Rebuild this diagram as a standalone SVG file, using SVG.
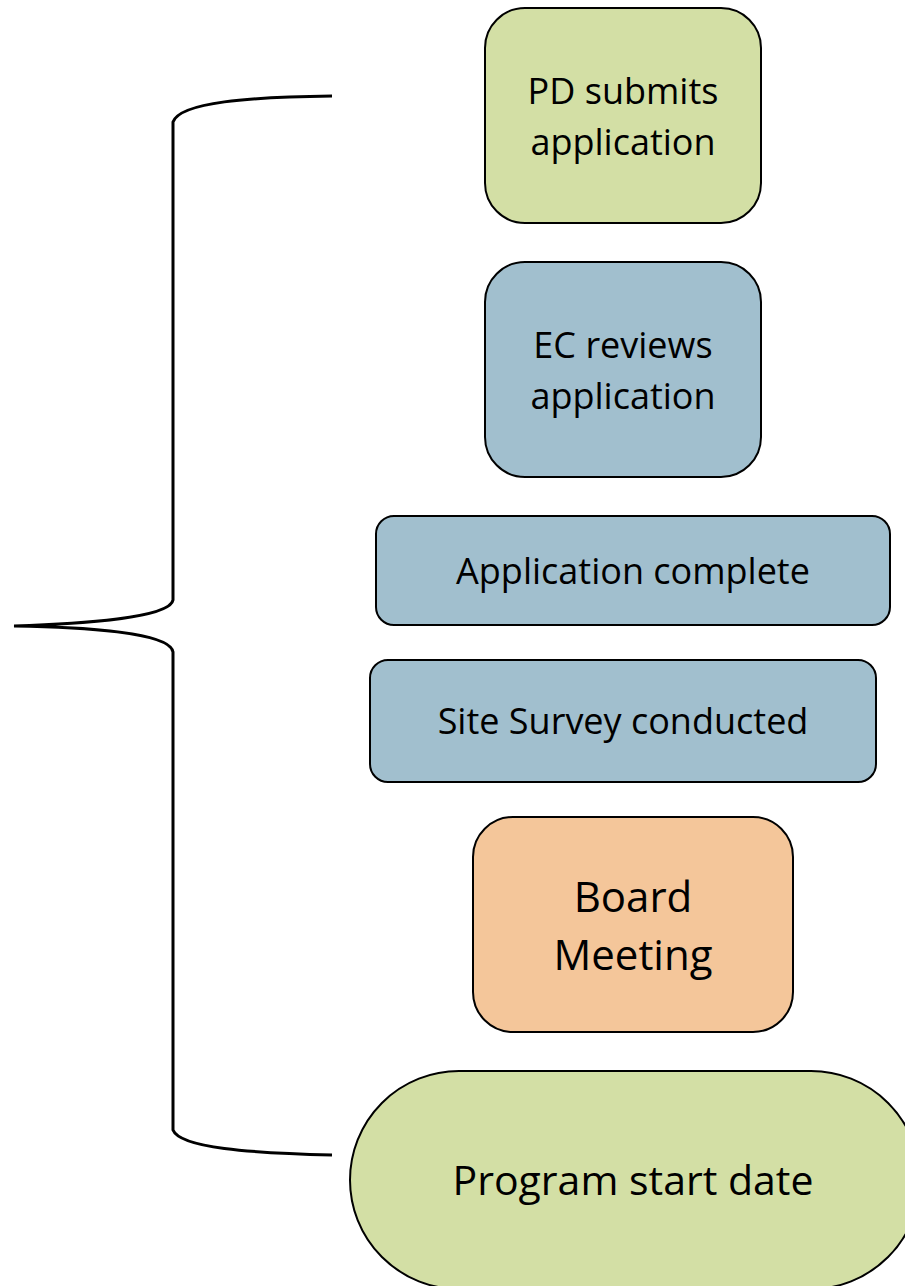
<svg xmlns="http://www.w3.org/2000/svg" width="905" height="1286" viewBox="0 0 905 1286">
<style>
.box{stroke:#000;stroke-width:2}
.g{fill:#d3dfa5}
.b{fill:#a1bfce}
.o{fill:#f4c69a}
text{font-family:"Open Sans","Noto Sans",sans-serif;font-size:36px;fill:#000;text-anchor:middle}
.big{font-size:42px}
</style>
<g id="connectors">
<path d="M332,96 C250,97 180,102 173,122 L173,600 C170,618 80,624 14,626 C80,627 170,632 173,652 L173,1130 C180,1148 250,1153 332,1155" fill="none" stroke="#000" stroke-width="3"/>
</g>
<g id="pd">
<rect class="box g" x="485" y="8" width="276" height="215" rx="40"/>
<text x="623" y="104">PD submits</text>
<text x="623" y="155">application</text>
</g>
<g id="ec">
<rect class="box b" x="485" y="262" width="276" height="215" rx="40"/>
<text x="623" y="358">EC reviews</text>
<text x="623" y="409">application</text>
</g>
<g id="complete">
<rect class="box b" x="376" y="516" width="514" height="109" rx="18"/>
<text x="633" y="584">Application complete</text>
</g>
<g id="survey">
<rect class="box b" x="370" y="660" width="506" height="122" rx="18"/>
<text x="623" y="734">Site Survey conducted</text>
</g>
<g id="board">
<rect class="box o" x="473" y="817" width="320" height="215" rx="40"/>
<text class="big" x="633" y="912">Board</text>
<text class="big" x="633" y="970">Meeting</text>
</g>
<g id="start">
<rect class="box g" x="350" y="1071" width="570" height="218" rx="109"/>
<text x="633" y="1195" style="font-size:41px">Program start date</text>
</g>
</svg>
